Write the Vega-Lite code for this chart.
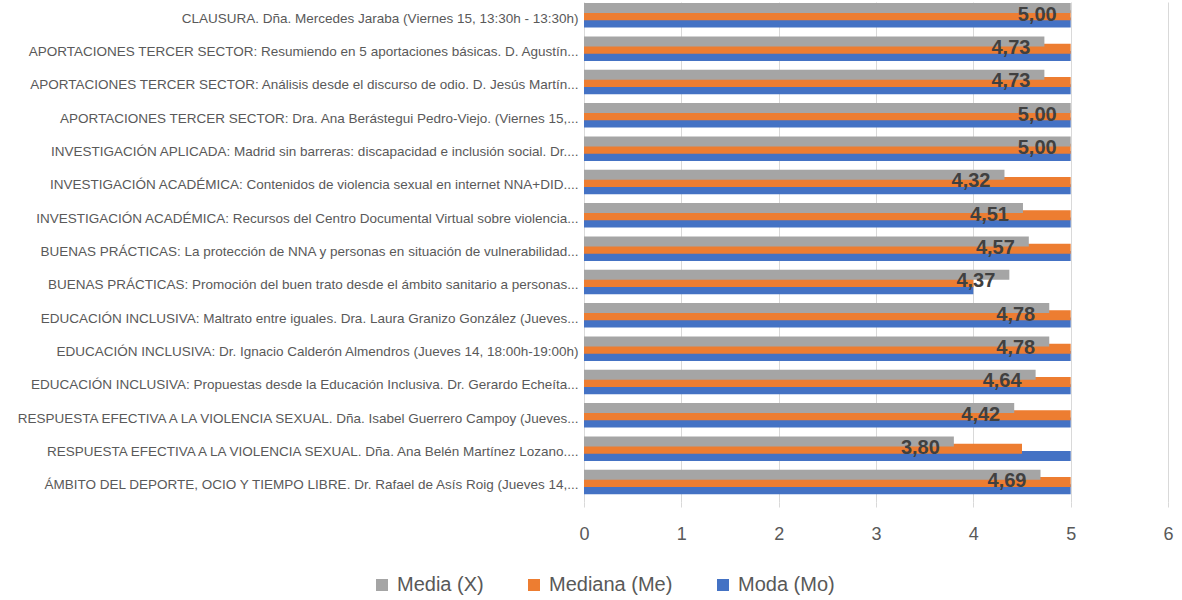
{
  "$schema": "https://vega.github.io/schema/vega-lite/v6.json",
  "width": 584,
  "height": 500,
  "autosize": {"type": "none"},
  "padding": {"left": 584, "top": 2, "right": 14, "bottom": 98},
  "background": "white",
  "config": {
    "view": {"stroke": null},
    "locale": {"number": {"decimal": ",", "thousands": ".", "grouping": [3], "currency": ["", " €"]}},
    "font": "Liberation Sans"
  },
  "data": {
    "values": [
      {"category": "CLAUSURA. Dña. Mercedes Jaraba (Viernes 15, 13:30h - 13:30h)", "series": "Moda (Mo)", "value": 5, "z": 1},
      {"category": "APORTACIONES TERCER SECTOR: Resumiendo en 5 aportaciones básicas. D. Agustín...", "series": "Moda (Mo)", "value": 5, "z": 1},
      {"category": "APORTACIONES TERCER SECTOR: Análisis desde el discurso de odio. D. Jesús Martín...", "series": "Moda (Mo)", "value": 5, "z": 1},
      {"category": "APORTACIONES TERCER SECTOR: Dra. Ana Berástegui Pedro-Viejo. (Viernes 15,...", "series": "Moda (Mo)", "value": 5, "z": 1},
      {"category": "INVESTIGACIÓN APLICADA: Madrid sin barreras: discapacidad e inclusión social. Dr....", "series": "Moda (Mo)", "value": 5, "z": 1},
      {"category": "INVESTIGACIÓN ACADÉMICA: Contenidos de violencia sexual en internet NNA+DID....", "series": "Moda (Mo)", "value": 5, "z": 1},
      {"category": "INVESTIGACIÓN ACADÉMICA: Recursos del Centro Documental Virtual sobre violencia...", "series": "Moda (Mo)", "value": 5, "z": 1},
      {"category": "BUENAS PRÁCTICAS: La protección de NNA y personas en situación de vulnerabilidad...", "series": "Moda (Mo)", "value": 5, "z": 1},
      {"category": "BUENAS PRÁCTICAS: Promoción del buen trato desde el ámbito sanitario a personas...", "series": "Moda (Mo)", "value": 4, "z": 1},
      {"category": "EDUCACIÓN INCLUSIVA: Maltrato entre iguales. Dra. Laura Granizo González (Jueves...", "series": "Moda (Mo)", "value": 5, "z": 1},
      {"category": "EDUCACIÓN INCLUSIVA:  Dr. Ignacio Calderón Almendros (Jueves 14, 18:00h-19:00h)", "series": "Moda (Mo)", "value": 5, "z": 1},
      {"category": "EDUCACIÓN INCLUSIVA: Propuestas desde la Educación Inclusiva. Dr. Gerardo Echeíta...", "series": "Moda (Mo)", "value": 5, "z": 1},
      {"category": "RESPUESTA EFECTIVA A LA VIOLENCIA SEXUAL. Dña. Isabel Guerrero Campoy (Jueves...", "series": "Moda (Mo)", "value": 5, "z": 1},
      {"category": "RESPUESTA EFECTIVA A LA VIOLENCIA SEXUAL. Dña. Ana Belén Martínez Lozano....", "series": "Moda (Mo)", "value": 5, "z": 1},
      {"category": "ÁMBITO DEL DEPORTE, OCIO Y TIEMPO LIBRE. Dr. Rafael de Asís Roig (Jueves 14,...", "series": "Moda (Mo)", "value": 5, "z": 1},

      {"category": "CLAUSURA. Dña. Mercedes Jaraba (Viernes 15, 13:30h - 13:30h)", "series": "Mediana (Me)", "value": 5, "z": 2},
      {"category": "APORTACIONES TERCER SECTOR: Resumiendo en 5 aportaciones básicas. D. Agustín...", "series": "Mediana (Me)", "value": 5, "z": 2},
      {"category": "APORTACIONES TERCER SECTOR: Análisis desde el discurso de odio. D. Jesús Martín...", "series": "Mediana (Me)", "value": 5, "z": 2},
      {"category": "APORTACIONES TERCER SECTOR: Dra. Ana Berástegui Pedro-Viejo. (Viernes 15,...", "series": "Mediana (Me)", "value": 5, "z": 2},
      {"category": "INVESTIGACIÓN APLICADA: Madrid sin barreras: discapacidad e inclusión social. Dr....", "series": "Mediana (Me)", "value": 5, "z": 2},
      {"category": "INVESTIGACIÓN ACADÉMICA: Contenidos de violencia sexual en internet NNA+DID....", "series": "Mediana (Me)", "value": 5, "z": 2},
      {"category": "INVESTIGACIÓN ACADÉMICA: Recursos del Centro Documental Virtual sobre violencia...", "series": "Mediana (Me)", "value": 5, "z": 2},
      {"category": "BUENAS PRÁCTICAS: La protección de NNA y personas en situación de vulnerabilidad...", "series": "Mediana (Me)", "value": 5, "z": 2},
      {"category": "BUENAS PRÁCTICAS: Promoción del buen trato desde el ámbito sanitario a personas...", "series": "Mediana (Me)", "value": 4, "z": 2},
      {"category": "EDUCACIÓN INCLUSIVA: Maltrato entre iguales. Dra. Laura Granizo González (Jueves...", "series": "Mediana (Me)", "value": 5, "z": 2},
      {"category": "EDUCACIÓN INCLUSIVA:  Dr. Ignacio Calderón Almendros (Jueves 14, 18:00h-19:00h)", "series": "Mediana (Me)", "value": 5, "z": 2},
      {"category": "EDUCACIÓN INCLUSIVA: Propuestas desde la Educación Inclusiva. Dr. Gerardo Echeíta...", "series": "Mediana (Me)", "value": 5, "z": 2},
      {"category": "RESPUESTA EFECTIVA A LA VIOLENCIA SEXUAL. Dña. Isabel Guerrero Campoy (Jueves...", "series": "Mediana (Me)", "value": 5, "z": 2},
      {"category": "RESPUESTA EFECTIVA A LA VIOLENCIA SEXUAL. Dña. Ana Belén Martínez Lozano....", "series": "Mediana (Me)", "value": 4.5, "z": 2},
      {"category": "ÁMBITO DEL DEPORTE, OCIO Y TIEMPO LIBRE. Dr. Rafael de Asís Roig (Jueves 14,...", "series": "Mediana (Me)", "value": 5, "z": 2},

      {"category": "CLAUSURA. Dña. Mercedes Jaraba (Viernes 15, 13:30h - 13:30h)", "series": "Media (X)", "value": 5.0, "z": 3},
      {"category": "APORTACIONES TERCER SECTOR: Resumiendo en 5 aportaciones básicas. D. Agustín...", "series": "Media (X)", "value": 4.73, "z": 3},
      {"category": "APORTACIONES TERCER SECTOR: Análisis desde el discurso de odio. D. Jesús Martín...", "series": "Media (X)", "value": 4.73, "z": 3},
      {"category": "APORTACIONES TERCER SECTOR: Dra. Ana Berástegui Pedro-Viejo. (Viernes 15,...", "series": "Media (X)", "value": 5.0, "z": 3},
      {"category": "INVESTIGACIÓN APLICADA: Madrid sin barreras: discapacidad e inclusión social. Dr....", "series": "Media (X)", "value": 5.0, "z": 3},
      {"category": "INVESTIGACIÓN ACADÉMICA: Contenidos de violencia sexual en internet NNA+DID....", "series": "Media (X)", "value": 4.32, "z": 3},
      {"category": "INVESTIGACIÓN ACADÉMICA: Recursos del Centro Documental Virtual sobre violencia...", "series": "Media (X)", "value": 4.51, "z": 3},
      {"category": "BUENAS PRÁCTICAS: La protección de NNA y personas en situación de vulnerabilidad...", "series": "Media (X)", "value": 4.57, "z": 3},
      {"category": "BUENAS PRÁCTICAS: Promoción del buen trato desde el ámbito sanitario a personas...", "series": "Media (X)", "value": 4.37, "z": 3},
      {"category": "EDUCACIÓN INCLUSIVA: Maltrato entre iguales. Dra. Laura Granizo González (Jueves...", "series": "Media (X)", "value": 4.78, "z": 3},
      {"category": "EDUCACIÓN INCLUSIVA:  Dr. Ignacio Calderón Almendros (Jueves 14, 18:00h-19:00h)", "series": "Media (X)", "value": 4.78, "z": 3},
      {"category": "EDUCACIÓN INCLUSIVA: Propuestas desde la Educación Inclusiva. Dr. Gerardo Echeíta...", "series": "Media (X)", "value": 4.64, "z": 3},
      {"category": "RESPUESTA EFECTIVA A LA VIOLENCIA SEXUAL. Dña. Isabel Guerrero Campoy (Jueves...", "series": "Media (X)", "value": 4.42, "z": 3},
      {"category": "RESPUESTA EFECTIVA A LA VIOLENCIA SEXUAL. Dña. Ana Belén Martínez Lozano....", "series": "Media (X)", "value": 3.80, "z": 3},
      {"category": "ÁMBITO DEL DEPORTE, OCIO Y TIEMPO LIBRE. Dr. Rafael de Asís Roig (Jueves 14,...", "series": "Media (X)", "value": 4.69, "z": 3}
    ]
  },
  "encoding": {
    "y": {
      "field": "category",
      "type": "nominal",
      "sort": null,
      "scale": {"paddingInner": 0.26, "paddingOuter": 0.13},
      "axis": {
        "title": null,
        "domain": false,
        "ticks": false,
        "grid": false,
        "labelFont": "Liberation Sans",
        "labelFontSize": 13.5,
        "labelColor": "#595959",
        "labelLimit": 600,
        "labelPadding": 6
      }
    },
    "x": {
      "field": "value",
      "type": "quantitative",
      "stack": null,
      "scale": {"domain": [0, 6], "nice": false, "zero": true},
      "axis": {
        "title": null,
        "values": [0, 1, 2, 3, 4, 5, 6],
        "format": "d",
        "domain": false,
        "grid": true,
        "gridColor": "#d9d9d9",
        "gridWidth": 1,
        "gridOpacity": 1,
        "ticks": true,
        "tickColor": "#d9d9d9",
        "tickSize": 5,
        "labelFlush": false,
        "labelFont": "Liberation Sans",
        "labelFontSize": 18,
        "labelColor": "#595959",
        "labelPadding": 18
      }
    }
  },
  "layer": [
    {
      "mark": {"type": "bar", "height": {"band": 1.38}},
      "encoding": {
        "yOffset": {
          "field": "series",
          "type": "nominal",
          "scale": {"domain": ["Media (X)", "Mediana (Me)", "Moda (Mo)"], "paddingInner": 0, "paddingOuter": 0.2}
        },
        "color": {
          "field": "series",
          "type": "nominal",
          "scale": {"domain": ["Media (X)", "Mediana (Me)", "Moda (Mo)"], "range": ["#A5A5A5", "#ED7D31", "#4472C4"]},
          "legend": {
            "title": null,
            "orient": "none",
            "direction": "horizontal",
            "legendX": -212,
            "legendY": 573,
            "symbolType": "square",
            "symbolSize": 144,
            "symbolStrokeWidth": 0,
            "labelFont": "Liberation Sans",
            "labelFontSize": 20,
            "labelColor": "#595959",
            "columnPadding": 40,
            "labelOffset": 5
          }
        },
        "order": {"field": "z", "type": "quantitative"}
      }
    },
    {
      "transform": [{"filter": "datum.series === 'Media (X)'"}],
      "mark": {"type": "text", "align": "right", "baseline": "middle", "dx": -14, "dy": -4, "fontSize": 20, "fontWeight": "bold", "color": "#404040", "font": "Liberation Sans"},
      "encoding": {
        "text": {"field": "value", "type": "quantitative", "format": ".2f"}
      }
    }
  ]
}
